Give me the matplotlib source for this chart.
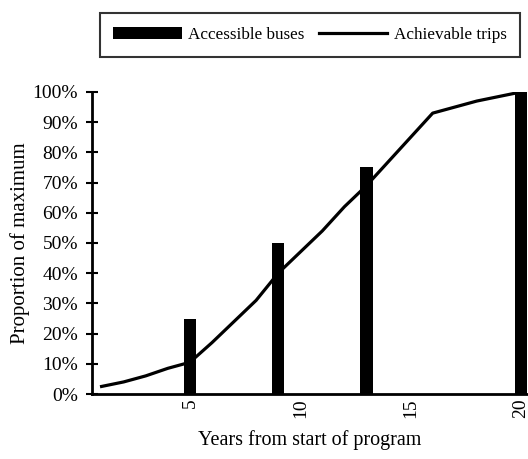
import numpy as np
import matplotlib.pyplot as plt
from matplotlib.ticker import PercentFormatter

# Data
years = list(range(1, 21))
trips = [2.5, 4, 6, 8.5, 10.5, 17, 24, 31, 40, 47,
         54, 62, 69, 77, 85, 93, 95, 97, 98.5, 100]
bus_years = [5, 9, 13, 20]
buses = [25, 50, 75, 100]
xticks = [5, 10, 15, 20]

plt.rcParams['font.family'] = ['Liberation Serif', 'DejaVu Serif']

fig = plt.figure(figsize=(5.28, 4.59), dpi=100)
ax = fig.add_axes([0.174, 0.1416, 0.824, 0.658])

bars = ax.bar(bus_years, buses, width=0.55, color='black',
              label='Accessible buses', zorder=2)
line, = ax.plot(years, trips, color='black', lw=2.3,
                label='Achievable trips', zorder=3)

ax.set_xlim(0.56, 20.27)
ax.set_ylim(0, 100)
ax.set_yticks(np.arange(0, 101, 10))
ax.yaxis.set_major_formatter(PercentFormatter(decimals=0))
ax.set_xticks(xticks)
ax.set_xticklabels([str(t) for t in xticks], rotation=90)

ax.tick_params(axis='y', direction='inout', length=8, width=1.5,
               labelsize=14, pad=6)
ax.tick_params(axis='x', length=0, labelsize=14, pad=3)

for s in ['top', 'right']:
    ax.spines[s].set_visible(False)
for s in ['left', 'bottom']:
    ax.spines[s].set_linewidth(2)

ax.set_xlabel('Years from start of program', fontsize=14.5, labelpad=9)
ax.set_ylabel('Proportion of maximum', fontsize=15, labelpad=2)

leg = fig.legend([bars, line], ['Accessible buses', 'Achievable trips'],
                 loc='center', bbox_to_anchor=(0.587, 0.924), ncol=2,
                 frameon=True, fancybox=False, fontsize=12.3,
                 handlelength=4.0, handleheight=0.7, columnspacing=0.8,
                 borderpad=0.8, handletextpad=0.4)
leg.get_frame().set_edgecolor('black')
leg.get_frame().set_linewidth(1.5)

plt.savefig('out.png', dpi=100)
